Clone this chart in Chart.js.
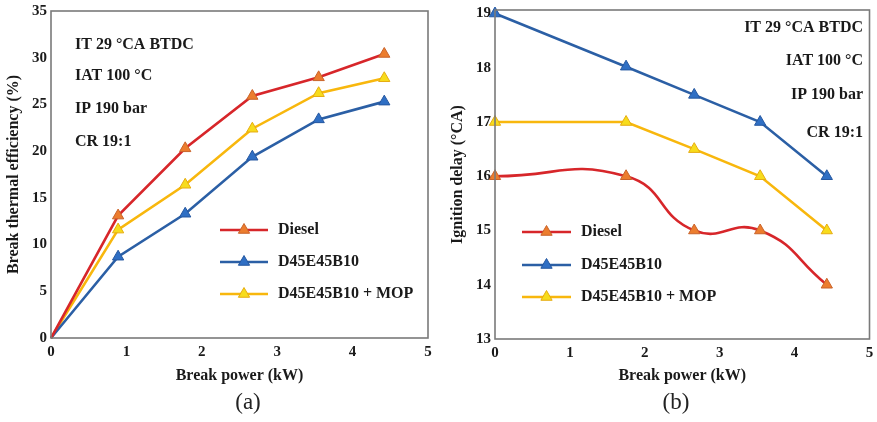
<!DOCTYPE html>
<html>
<head>
<meta charset="utf-8">
<script src="https://cdn.jsdelivr.net/npm/chart.js@4.4.1/dist/chart.umd.min.js"></script>
<style>
  html, body { margin: 0; padding: 0; background: #fff; }
  body { width: 877px; height: 422px; position: relative; overflow: hidden; }
  .panel { position: absolute; top: 0; height: 390px; }
  #wrapA { left: 0; width: 440px; }
  #wrapB { left: 440px; width: 437px; }
  .caption { position: absolute; top: 389px; font-family: "Liberation Serif", serif; font-size: 23px; color: #222; transform: translateX(-50%); }
</style>
</head>
<body>
<div class="panel" id="wrapA"><canvas id="chartA"></canvas></div>
<div class="panel" id="wrapB"><canvas id="chartB"></canvas></div>
<div class="caption" style="left:248px">(a)</div>
<div class="caption" style="left:676px">(b)</div>
<script>
// Panel (a): brake thermal efficiency vs brake power
const powerA = [0, 0.89, 1.78, 2.67, 3.55, 4.42];
const bteDiesel = [0, 13.1, 20.3, 25.9, 27.9, 30.4];
const bteBlend = [0, 8.7, 13.3, 19.4, 23.4, 25.3];
const bteBlendMop = [0, 11.6, 16.4, 22.4, 26.2, 27.8];

// Panel (b): ignition delay vs brake power
const powerB = [0, 1.75, 2.66, 3.54, 4.43];
const idDiesel = [16.0, 16.0, 15.0, 15.0, 14.0];
const idBlend = [19.0, 18.02, 17.5, 17.0, 16.0];
const idBlendMop = [17.0, 17.0, 16.5, 16.0, 15.0];

const seriesNames = ['Diesel', 'D45E45B10', 'D45E45B10 + MOP'];
const conditions = ['IT 29 \u00B0CA BTDC', 'IAT 100 \u00B0C', 'IP 190 bar', 'CR 19:1'];

const styles = [
  { line: '#d7262a', fill: '#ec7d2e', edge: '#c9632a' },
  { line: '#2b5fa5', fill: '#2f6fc4', edge: '#2557a0' },
  { line: '#f8b70d', fill: '#f7dc1c', edge: '#e6ac10' }
];

const serif = '"Liberation Serif", "Times New Roman", serif';
const ink = '#1a1a1a';
const markerSize = 6.5;

function pts(xs, ys) { return xs.map((x, i) => ({ x: x, y: ys[i] })); }

function dataset(i, xs, ys, opts) {
  const s = styles[i];
  opts = opts || {};
  // the origin of the efficiency curves carries no marker
  const radius = opts.bareOrigin ? (c => (c.raw && c.raw.x === 0 ? 0 : markerSize)) : markerSize;
  return {
    label: seriesNames[i],
    data: pts(xs, ys),
    borderColor: s.line,
    borderWidth: 2.6,
    pointStyle: 'triangle',
    pointRadius: radius,
    pointHoverRadius: radius,
    pointBackgroundColor: s.fill,
    pointBorderColor: s.edge,
    pointBorderWidth: 1,
    tension: opts.tension || 0,
    fill: false,
    clip: false
  };
}

function triangle(ctx, x, y, r) {
  ctx.beginPath();
  for (let k = 0; k < 3; k++) {
    const a = k * 2 * Math.PI / 3;
    const px = x + Math.sin(a) * r, py = y - Math.cos(a) * r;
    if (k === 0) ctx.moveTo(px, py); else ctx.lineTo(px, py);
  }
  ctx.closePath();
}

// Frame, in-plot legend and test-condition notes
const decorations = {
  id: 'decorations',
  afterDraw(chart, args, opts) {
    const ctx = chart.ctx;
    const a = chart.chartArea;
    ctx.save();
    ctx.strokeStyle = '#7a7a7a';
    ctx.lineWidth = 1.6;
    ctx.strokeRect(a.left, a.top, a.right - a.left, a.bottom - a.top);

    ctx.font = 'bold 16px ' + serif;
    ctx.fillStyle = ink;
    ctx.textBaseline = 'middle';
    ctx.textAlign = opts.noteAlign;
    opts.noteY.forEach((y, i) => ctx.fillText(conditions[i], opts.noteX, y));

    ctx.textAlign = 'left';
    chart.data.datasets.forEach((ds, i) => {
      const y = opts.legendY[i];
      const x0 = opts.legendX, x1 = opts.legendX + opts.legendLen;
      ctx.strokeStyle = ds.borderColor;
      ctx.lineWidth = 2.6;
      ctx.beginPath(); ctx.moveTo(x0, y); ctx.lineTo(x1, y); ctx.stroke();
      triangle(ctx, (x0 + x1) / 2, y, markerSize);
      ctx.fillStyle = ds.pointBackgroundColor;
      ctx.fill();
      ctx.strokeStyle = ds.pointBorderColor;
      ctx.lineWidth = 1;
      ctx.stroke();
      ctx.fillStyle = ink;
      ctx.fillText(ds.label, x1 + 10, y);
    });
    ctx.restore();
  }
};

function axes(yMin, yMax, yStep, yTitle, yTitlePad, yWidth, xHeight) {
  const tickFont = { family: serif, size: 15, weight: 'bold' };
  const titleFont = { family: serif, size: 16, weight: 'bold' };
  return {
    x: {
      type: 'linear', min: 0, max: 5,
      ticks: { stepSize: 1, font: tickFont, color: ink, padding: 5 },
      grid: { display: false, drawTicks: false },
      border: { display: false },
      title: { display: true, text: 'Break power (kW)', font: titleFont, color: ink, padding: { top: 0, bottom: 5 } },
      afterFit(s) { s.height = xHeight; s.paddingLeft = 0; s.paddingRight = 0; }
    },
    y: {
      type: 'linear', min: yMin, max: yMax,
      ticks: { font: tickFont, color: ink, padding: 4 },
      afterBuildTicks(s) {
        const list = [];
        for (let v = yMin; v <= yMax + 1e-9; v += yStep) list.push({ value: v });
        s.ticks = list;
      },
      grid: { display: false, drawTicks: false },
      border: { display: false },
      title: { display: true, text: yTitle, font: titleFont, color: ink, padding: { top: yTitlePad, bottom: 0 } },
      afterFit(s) { s.width = yWidth; s.paddingTop = 0; s.paddingBottom = 0; }
    }
  };
}

const common = {
  responsive: true,
  maintainAspectRatio: false,
  animation: false,
  events: [],
  plugins: { legend: { display: false }, tooltip: { enabled: false } }
};

new Chart(document.getElementById('chartA'), {
  type: 'line',
  data: {
    datasets: [
      dataset(0, powerA, bteDiesel, { bareOrigin: true }),
      dataset(1, powerA, bteBlend, { bareOrigin: true }),
      dataset(2, powerA, bteBlendMop, { bareOrigin: true })
    ]
  },
  options: Object.assign({}, common, {
    layout: { padding: { top: 11, right: 12, left: 0, bottom: 0 } },
    scales: axes(0, 35, 5, 'Break thermal efficiency (%)', 4, 51, 52),
    plugins: Object.assign({}, common.plugins, {
      decorations: {
        noteAlign: 'left', noteX: 75, noteY: [45, 76, 109, 142],
        legendX: 220, legendLen: 48, legendY: [230, 262, 294]
      }
    })
  }),
  plugins: [decorations]
});

new Chart(document.getElementById('chartB'), {
  type: 'line',
  data: {
    datasets: [
      dataset(0, powerB, idDiesel, { tension: 0.5 }),
      dataset(1, powerB, idBlend),
      dataset(2, powerB, idBlendMop)
    ]
  },
  options: Object.assign({}, common, {
    layout: { padding: { top: 10, right: 4, left: 0, bottom: 0 } },
    scales: axes(13, 19.065, 1, 'Ignition delay (\u00B0CA)', 8, 55, 51),
    plugins: Object.assign({}, common.plugins, {
      decorations: {
        noteAlign: 'right', noteX: 423, noteY: [28, 61, 95, 133],
        legendX: 82, legendLen: 49, legendY: [232, 265, 297]
      }
    })
  }),
  plugins: [decorations]
});
</script>
</body>
</html>
